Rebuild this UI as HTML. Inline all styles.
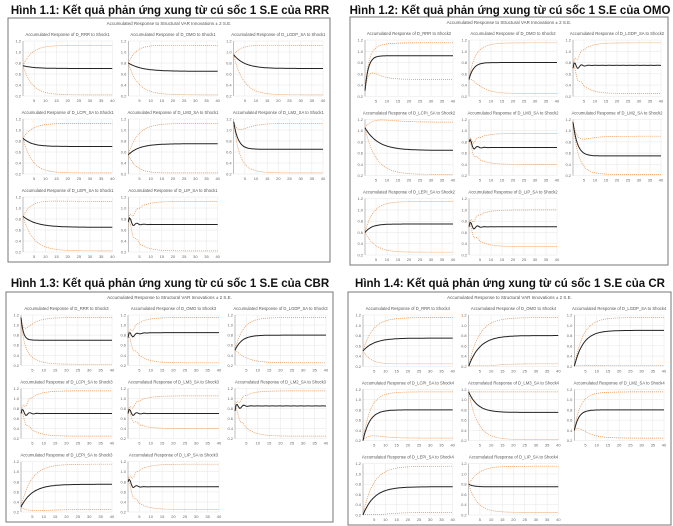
<!DOCTYPE html><html><head><meta charset="utf-8"><style>
html,body{margin:0;padding:0;background:#fff;width:673px;height:526px;overflow:hidden}
svg{display:block}
</style></head><body>
<svg id="s" width="673" height="526" xmlns="http://www.w3.org/2000/svg" font-family="Liberation Sans, sans-serif">
<text x="170" y="14" font-size="11.5" font-weight="bold" text-anchor="middle" fill="#111">Hình 1.1: Kết quả phản ứng xung từ cú sốc 1 S.E của RRR</text>
<text x="510" y="14" font-size="11.5" font-weight="bold" text-anchor="middle" fill="#111">Hình 1.2: Kết quả phản ứng xung từ cú sốc 1 S.E của OMO</text>
<text x="170" y="287" font-size="11.5" font-weight="bold" text-anchor="middle" fill="#111">Hình 1.3: Kết quả phản ứng xung từ cú sốc 1 S.E của CBR</text>
<text x="510" y="287" font-size="11.5" font-weight="bold" text-anchor="middle" fill="#111">Hình 1.4: Kết quả phản ứng xung từ cú sốc 1 S.E của CR</text>
</svg>
<script>
var s=document.getElementById('s'),NS='http://www.w3.org/2000/svg';
function el(t,a,txt){var e=document.createElementNS(NS,t);for(var k in a)e.setAttribute(k,a[k]);if(txt)e.textContent=txt;s.appendChild(e);return e;}
var vars=['D_RRR','D_OMO','D_LGDP_SA','D_LCPI_SA','D_LM3_SA','D_LM2_SA','D_LEPI_SA','D_LIP_SA'];
var panels=[[8,18,330,262,1],[350,17,668,265,2],[6,292,333,522,3],[348,292,671,525,4]];
// [start,end,tau,upper,lower,osc]
var shapes={
1:[[.55,.5,5,.92,.02,0],[.6,.45,6,.92,.02,0],[.75,.5,5,.92,.02,0],[.65,.5,4,.92,.02,0],[.35,.55,5,.92,.02,0],[.95,.45,2,.92,.02,0],[.65,.45,6,.92,.02,0],[.55,.5,2,.92,.02,1]],
2:[[.1,.72,1.5,.95,.3,0],[.3,.6,2,.95,.05,0],[.5,.55,2,.95,.05,1],[.85,.45,6,.95,.02,0],[.6,.5,1,.75,.2,1],[.95,.35,2,.7,.02,0],[.4,.55,3,.95,.05,0],[.5,.5,1,.8,.15,1]],
3:[[.95,.5,1,.95,.02,0],[.55,.65,3,.95,.05,1],[.3,.6,3,.95,.05,0],[.5,.5,2,.95,.05,1],[.5,.5,1,.85,.2,1],[.55,.65,1,.95,.05,1],[.1,.55,5,.95,.05,0],[.6,.5,1.5,.95,.05,1]],
4:[[.3,.55,5,.95,.05,0],[0,.6,5,.95,.05,0],[0,.7,4,.95,.02,0],[0,.6,3,.95,.05,0],[.95,.55,4,.95,.02,0],[.2,.6,2,.95,.05,0],[0,.55,5,.95,.05,0],[.6,.55,2,.95,.05,0]]};
panels.forEach(function(p){
 var x0=p[0],y0=p[1],x1=p[2],y1=p[3],n=p[4];
 el('rect',{x:x0,y:y0,width:x1-x0,height:y1-y0,fill:'#fff',stroke:'#777','stroke-width':1});
 el('text',{x:(x0+x1)/2,y:y0+7,'font-size':4.5,'text-anchor':'middle',fill:'#555'},'Accumulated Response to Structural VAR Innovations ± 2 S.E.');
 var cw=(x1-x0-6)/3,rh=(y1-y0-10)/3;
 for(var i=0;i<8;i++){
  var c=i%3,r=Math.floor(i/3);
  var cx=x0+3+c*cw,ry=y0+9+r*rh;
  var px0=cx+12,px1=cx+cw-4,py0=ry+14,py1=ry+rh-9;
  el('text',{x:(px0+px1)/2,y:ry+9,'font-size':4.2,'text-anchor':'middle',fill:'#555'},'Accumulated Response of '+vars[i]+' to Shock'+n);
  var W=px1-px0,H=py1-py0;
  for(var g=0;g<=8;g++){var gx=px0+W*g/8;el('line',{x1:gx,y1:py0,x2:gx,y2:py1,stroke:'#e6e6e6','stroke-width':.5});
   if(g>0)el('text',{x:gx,y:py1+6,'font-size':4,'text-anchor':'middle',fill:'#666'},g*5);}
  for(var g=0;g<=5;g++){var gy=py0+H*g/5;el('line',{x1:px0,y1:gy,x2:px1,y2:gy,stroke:'#e6e6e6','stroke-width':.5});
   el('text',{x:px0-2,y:gy+1.5,'font-size':4,'text-anchor':'end',fill:'#666'},(1.2-g*.2).toFixed(1));}
  el('line',{x1:px0,y1:py0,x2:px0,y2:py1,stroke:'#999','stroke-width':.6});
  var sh=shapes[n][i],a=sh[0],b=sh[1],tau=sh[2];
  var ptsM='',ptsU='',ptsL='';
  for(var t=0;t<=40;t+=.5){
   var m=a+(b-a)*(1-Math.exp(-t/tau));
   if(sh[5])m+=0.12*Math.exp(-t/2)*Math.sin(t*2);
   var bw=1-Math.exp(-t/4);
   var u=m+(sh[3]-b)*bw, l=m-(b-sh[4])*bw;
   u=Math.min(.99,Math.max(.01,u)); l=Math.min(.99,Math.max(.01,l));
   var X=px0+W*t/40;
   ptsM+=X.toFixed(1)+','+(py1-H*m).toFixed(1)+' ';
   ptsU+=X.toFixed(1)+','+(py1-H*u).toFixed(1)+' ';
   ptsL+=X.toFixed(1)+','+(py1-H*l).toFixed(1)+' ';
  }
  el('polyline',{points:ptsU,fill:'none',stroke:'#e8883a','stroke-width':.7,'stroke-dasharray':'1,1'});
  el('polyline',{points:ptsL,fill:'none',stroke:'#e8883a','stroke-width':.7,'stroke-dasharray':'1,1'});
  el('polyline',{points:ptsM,fill:'none',stroke:'#222','stroke-width':1});
 }
});
</script>
</body></html>
